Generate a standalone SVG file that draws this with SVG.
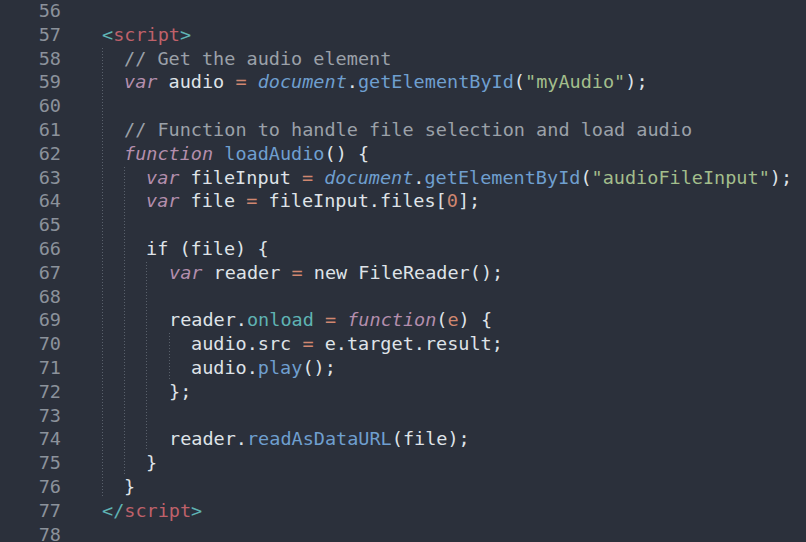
<svg xmlns="http://www.w3.org/2000/svg" width="806" height="542" viewBox="0 0 806 542">
<style>
text{font-family:"DejaVu Sans Mono","Liberation Mono",monospace;font-size:18.5px;fill:#dfe3e8;white-space:pre}
.n{fill:#8c929b;text-anchor:end}
.c{fill:#9ba1a9}
.k{fill:#b48ead;font-style:italic}
.d{fill:#6f9fcf;font-style:italic}
.m{fill:#6f9fcf}
.o{fill:#d08770}
.s{fill:#a3be8c}
.t{fill:#5fb3b3}
.r{fill:#bf616a}
.g{stroke:#59606b;stroke-width:1;stroke-dasharray:1 2}
</style>
<rect width="806" height="542" fill="#2b303b"/>
<g id="guides">
<line class="g" x1="102.5" y1="48" x2="102.5" y2="498"/>
<line class="g" x1="124.5" y1="167" x2="124.5" y2="474"/>
<line class="g" x1="146.5" y1="262" x2="146.5" y2="450"/>
<line class="g" x1="169.5" y1="333" x2="169.5" y2="380"/>
</g>
<g id="numbers">
<text class="n" x="61" y="17">56</text>
<text class="n" x="61" y="40.8">57</text>
<text class="n" x="61" y="64.6">58</text>
<text class="n" x="61" y="88.4">59</text>
<text class="n" x="61" y="112.2">60</text>
<text class="n" x="61" y="136">61</text>
<text class="n" x="61" y="159.8">62</text>
<text class="n" x="61" y="183.6">63</text>
<text class="n" x="61" y="207.4">64</text>
<text class="n" x="61" y="231.2">65</text>
<text class="n" x="61" y="255">66</text>
<text class="n" x="61" y="278.8">67</text>
<text class="n" x="61" y="302.6">68</text>
<text class="n" x="61" y="326.4">69</text>
<text class="n" x="61" y="350.2">70</text>
<text class="n" x="61" y="374">71</text>
<text class="n" x="61" y="397.8">72</text>
<text class="n" x="61" y="421.6">73</text>
<text class="n" x="61" y="445.4">74</text>
<text class="n" x="61" y="469.2">75</text>
<text class="n" x="61" y="493">76</text>
<text class="n" x="61" y="516.8">77</text>
<text class="n" x="61" y="540.6">78</text>
</g>
<g id="code">
<text x="102" y="40.8"><tspan class="t">&lt;</tspan><tspan class="r">script</tspan><tspan class="t">&gt;</tspan></text>
<text x="124" y="64.6" class="c">// Get the audio element</text>
<text x="124" y="88.4"><tspan class="k">var</tspan> audio <tspan class="o">=</tspan> <tspan class="d">document</tspan>.<tspan class="m">getElementById</tspan>(<tspan class="s">"myAudio"</tspan>);</text>
<text x="124" y="136" class="c">// Function to handle file selection and load audio</text>
<text x="124" y="159.8"><tspan class="k">function</tspan> <tspan class="m">loadAudio</tspan>() {</text>
<text x="146" y="183.6"><tspan class="k">var</tspan> fileInput <tspan class="o">=</tspan> <tspan class="d">document</tspan>.<tspan class="m">getElementById</tspan>(<tspan class="s">"audioFileInput"</tspan>);</text>
<text x="146" y="207.4"><tspan class="k">var</tspan> file <tspan class="o">=</tspan> fileInput.files[<tspan class="o">0</tspan>];</text>
<text x="146" y="255">if (file) {</text>
<text x="169" y="278.8"><tspan class="k">var</tspan> reader <tspan class="o">=</tspan> new FileReader();</text>
<text x="169" y="326.4">reader.<tspan class="t">onload</tspan> <tspan class="o">=</tspan> <tspan class="k">function</tspan>(<tspan class="o">e</tspan>) {</text>
<text x="191" y="350.2">audio.src <tspan class="o">=</tspan> e.target.result;</text>
<text x="191" y="374">audio.<tspan class="m">play</tspan>();</text>
<text x="169" y="397.8">};</text>
<text x="169" y="445.4">reader.<tspan class="m">readAsDataURL</tspan>(file);</text>
<text x="146" y="469.2">}</text>
<text x="124" y="493">}</text>
<text x="102" y="516.8"><tspan class="t">&lt;/</tspan><tspan class="r">script</tspan><tspan class="t">&gt;</tspan></text>
</g>
</svg>
